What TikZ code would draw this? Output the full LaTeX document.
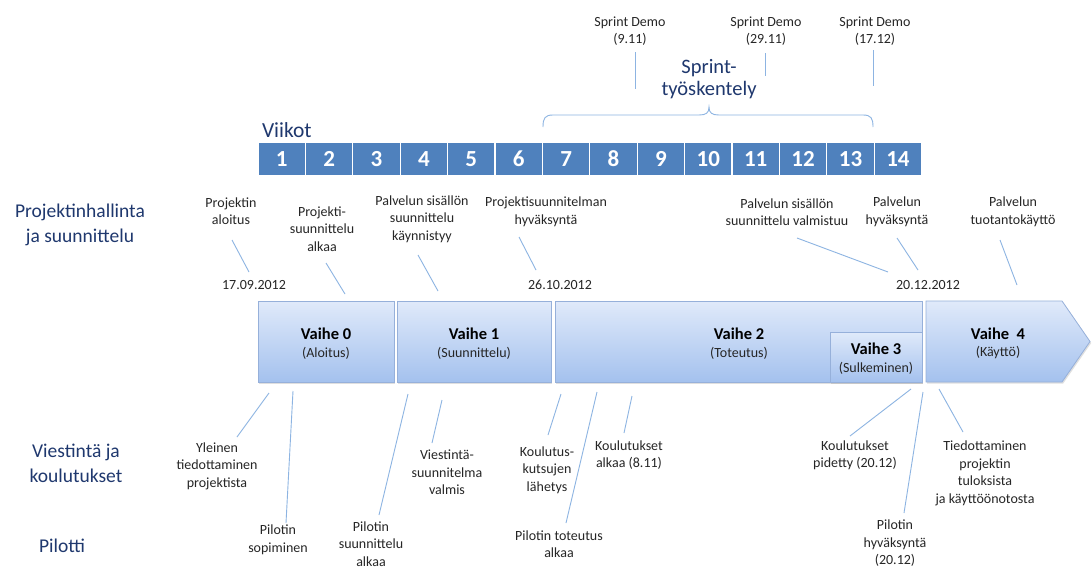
\documentclass[tikz,border=0pt]{standalone}
\usepackage{fontspec}
\setmainfont{Carlito}
\usetikzlibrary{shadows}
\definecolor{navy}{RGB}{31,56,110}
\definecolor{weekblue}{RGB}{79,129,189}
\definecolor{leadblue}{RGB}{141,180,226}
\definecolor{phasetop}{RGB}{224,234,250}
\definecolor{phasebot}{RGB}{164,193,238}
\definecolor{phaseedge}{RGB}{150,176,218}
\definecolor{notegray}{RGB}{38,38,38}
\begin{document}
\begin{tikzpicture}[x=1pt,y=-1pt,
  every node/.style={inner sep=0pt,outer sep=0pt},
  note/.style={font=\fontsize{14}{17.5}\selectfont,align=center,text=notegray},
  head/.style={font=\fontsize{19.5}{25}\selectfont,align=center,text=navy},
  week/.style={draw=white,line width=1.2pt,fill=weekblue,minimum width=47.4pt,
    minimum height=34pt,text=white,font=\fontsize{23}{23}\bfseries\selectfont},
  leader/.style={draw=leadblue,line width=0.9pt},
  phase/.style={draw=phaseedge,line width=0.8pt,top color=phasetop,bottom color=phasebot,
    drop shadow={shadow xshift=1.2pt,shadow yshift=-1.5pt,opacity=0.25}},
  phasebox/.style={phase,anchor=north west},
  ptitle/.style={font=\fontsize{16.5}{19}\bfseries\selectfont,text=black},
  psub/.style={font=\fontsize{14}{17}\selectfont,text=notegray},
]
\useasboundingbox (0,0) rectangle (1092,568);
\fill[white] (0,0) rectangle (1092,568);

% ---- sprint demos and brace
\node[note] (sd1) at (630,31) {Sprint Demo\\(9.11)};
\node[note] (sd2) at (766,31) {Sprint Demo\\(29.11)};
\node[note] (sd3) at (875,31) {Sprint Demo\\(17.12)};
\coordinate (sd1a) at (635,52); \coordinate (sd1b) at (635,89);
\coordinate (sd2a) at (765,53); \coordinate (sd2b) at (765,76);
\coordinate (sd3a) at (873,50); \coordinate (sd3b) at (873,86);
\draw[leader] (sd1a) -- (sd1b);
\draw[leader] (sd2a) -- (sd2b);
\draw[leader] (sd3a) -- (sd3b);
\node[font=\fontsize{20.5}{21.5}\selectfont,align=center,text=navy] (sprint) at (709,79) {Sprint-\\työskentely};
\draw[leader] (543,127) .. controls (543,118) and (545,115) .. (553,115) -- (699,115)
  .. controls (706,115) and (709,113) .. (709,107)
  .. controls (709,113) and (712,115) .. (719,115) -- (863,115)
  .. controls (871,115) and (873,118) .. (873,127);

% ---- weeks
\node[font=\fontsize{21.5}{21.5}\selectfont,text=navy,anchor=base west] (viikot) at (262,137) {Viikot};
\foreach \i in {1,...,14}
  \node[week] (w\i) at ({258+47.4*(\i-0.5)},159) {\i};

% ---- row headings
\node[head] (pm) at (80,225) {Projektinhallinta\\ja suunnittelu};
\node[head] (vk) at (76,463) {Viestintä ja\\koulutukset};
\node[head] (pil) at (62,546) {Pilotti};

% ---- project management milestones
\node[note] (m1) at (231,211) {Projektin\\aloitus};
\node[note] (m2) at (322,229) {Projekti-\\suunnittelu\\alkaa};
\node[note] (m3) at (422,219) {Palvelun sisällön\\suunnittelu\\käynnistyy};
\node[note] (m4) at (546,212) {Projektisuunnitelman\\hyväksyntä};
\node[note] (m5) at (787,212) {Palvelun sisällön\\suunnittelu valmistuu};
\node[note] (m6) at (897,212) {Palvelun\\hyväksyntä};
\node[note] (m7) at (1013,212) {Palvelun\\tuotantokäyttö};
\node[note] (d1) at (254,285) {17.09.2012};
\node[note] (d2) at (560,285) {26.10.2012};
\node[note] (d3) at (928,285) {20.12.2012};
\coordinate (m1a) at (232,240); \coordinate (m1b) at (249,272);
\coordinate (m2a) at (326,263); \coordinate (m2b) at (345,294);
\coordinate (m3a) at (418,255); \coordinate (m3b) at (438,291);
\coordinate (m4a) at (519,237); \coordinate (m4b) at (536,270);
\coordinate (m5a) at (797,238); \coordinate (m5b) at (888,272);
\coordinate (m6a) at (897,238); \coordinate (m6b) at (918,270);
\coordinate (m7a) at (1000,240); \coordinate (m7b) at (1017,285);
\foreach \m in {m1,m2,m3,m4,m5,m6,m7}
  \draw[leader] (\m a) -- (\m b);

% ---- phases
\node[phasebox,minimum width=136pt,minimum height=81pt] (v0) at (258,301) {};
\node[phasebox,minimum width=154pt,minimum height=81pt] (v1) at (397,301) {};
\node[phasebox,minimum width=367pt,minimum height=81pt] (v2) at (555,301) {};
\node[phasebox,minimum width=92pt,minimum height=50pt] (v3) at (830,332) {};
\path[phase] (926,301) -- (1062,301) -- (1090,341.5) -- (1062,382) -- (926,382) -- cycle;
\node[ptitle] (v0a) at (326,334) {Vaihe 0};
\node[psub]   (v0b) at (326,353) {(Aloitus)};
\node[ptitle] (v1a) at (474,334) {Vaihe 1};
\node[psub]   (v1b) at (474,353) {(Suunnittelu)};
\node[ptitle] (v2a) at (739,334) {Vaihe 2};
\node[psub]   (v2b) at (739,353) {(Toteutus)};
\node[ptitle] (v3a) at (876,349) {Vaihe 3};
\node[psub]   (v3b) at (876,368) {(Sulkeminen)};
\node[ptitle] (v4a) at (998,334) {Vaihe\ \ 4};
\node[psub]   (v4b) at (998,353) {(Käyttö)};

% ---- communication, training and pilot milestones
\node[note] (c1) at (217,466) {Yleinen\\tiedottaminen\\projektista};
\node[note] (c2) at (278,540) {Pilotin\\sopiminen};
\node[note] (c3) at (371,544) {Pilotin\\suunnittelu\\alkaa};
\node[note] (c4) at (447,472.5) {Viestintä-\\suunnitelma\\valmis};
\node[note] (c5) at (547,470) {Koulutus-\\kutsujen\\lähetys};
\node[note] (c6) at (559,544) {Pilotin toteutus\\alkaa};
\node[note] (c7) at (629,455) {Koulutukset\\alkaa (8.11)};
\node[note] (c8) at (855,455.5) {Koulutukset\\pidetty (20.12)};
\node[note] (c9) at (895,543.5) {Pilotin\\hyväksyntä\\(20.12)};
\node[note] (c10) at (985,473.5) {Tiedottaminen\\projektin\\tuloksista\\ja käyttöönotosta};
\coordinate (c1a) at (237,437); \coordinate (c1b) at (269,393);
\coordinate (c2a) at (286,523); \coordinate (c2b) at (293,391);
\coordinate (c3a) at (379,515); \coordinate (c3b) at (408,394);
\coordinate (c4a) at (432,443); \coordinate (c4b) at (442,400);
\coordinate (c5a) at (548,435); \coordinate (c5b) at (561,394);
\coordinate (c6a) at (566,523); \coordinate (c6b) at (597,392);
\coordinate (c7a) at (624,433); \coordinate (c7b) at (632,396);
\coordinate (c8a) at (850,436); \coordinate (c8b) at (911,389);
\coordinate (c9a) at (904,513); \coordinate (c9b) at (923,392);
\coordinate (c10a) at (963,432); \coordinate (c10b) at (939,389);
\foreach \c in {c1,c2,c3,c4,c5,c6,c7,c8,c9,c10}
  \draw[leader] (\c a) -- (\c b);
\end{tikzpicture}
\end{document}
